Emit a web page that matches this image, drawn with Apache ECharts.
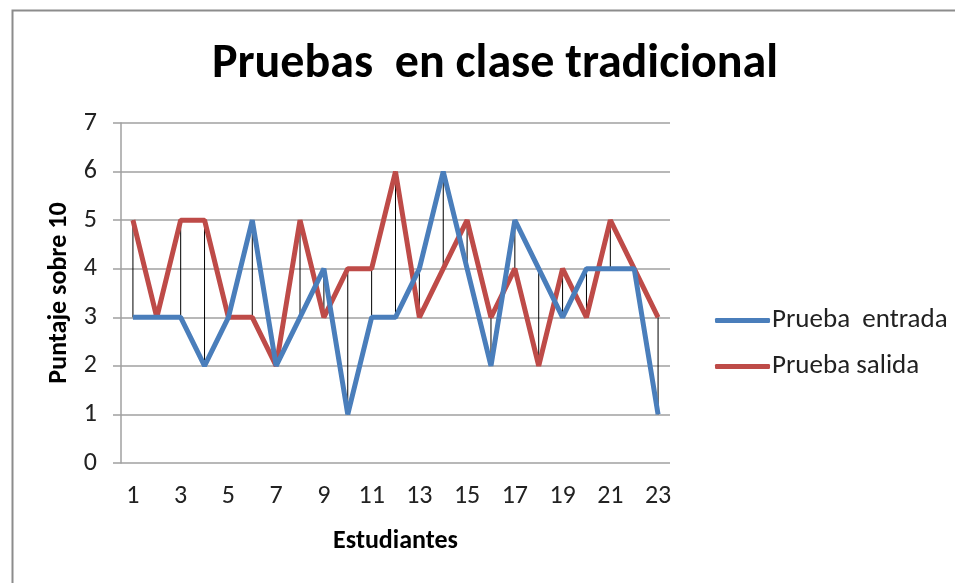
<!DOCTYPE html>
<html><head><meta charset="utf-8">
<script src="https://cdn.jsdelivr.net/npm/echarts@6/dist/echarts.min.js"></script>
<style>html,body{margin:0;padding:0;background:#fff}#c{width:955px;height:583px}</style>
</head><body><div id="c"></div>
<script>
const categories = ['1','2','3','4','5','6','7','8','9','10','11','12','13','14','15','16','17','18','19','20','21','22','23'];
const entrada = [3,3,3,2,3,5,2,3,4,1,3,3,4,6,4,2,5,4,3,4,4,4,1];
const salida  = [5,3,5,5,3,3,2,5,3,4,4,6,3,4,5,3,4,2,4,3,5,4,3];
const yTicks = [0,1,2,3,4,5,6,7];
const FONT = 'Carlito, Lato, "Liberation Sans", sans-serif';

const chart = echarts.init(document.getElementById('c'), null, {renderer:'canvas'});
chart.setOption({
  animation:false,
  backgroundColor:'#fff',
  graphic:[{type:'rect', shape:{x:12.5,y:10.5,width:960,height:600}, style:{fill:'none', stroke:'#8c8c8c', lineWidth:2}, silent:true}],
  title:{text:'Pruebas  en clase tradicional', left:490, textAlign:'center', top:36,
    textStyle:{fontFamily:FONT, fontSize:48, fontWeight:'bold', color:'#000'}},
  legend:{orient:'vertical', left:710, top:302, itemGap:19, itemWidth:55, itemHeight:5, icon:'roundRect',
    textStyle:{fontFamily:FONT, fontSize:27, color:'#222', padding:[0,0,0,-3]},
    data:['Prueba  entrada','Prueba salida']},
  grid:{left:121, right:285, top:123, bottom:120},
  xAxis:{type:'category', data:categories, boundaryGap:true,
    name:'Estudiantes', nameLocation:'middle', nameGap:65,
    nameTextStyle:{fontFamily:FONT, fontSize:26, fontWeight:'bold', color:'#000'},
    axisLine:{show:false}, axisTick:{show:false},
    axisLabel:{interval:1, fontFamily:FONT, fontSize:26, color:'#222', margin:20}},
  yAxis:{type:'value', min:yTicks[0], max:yTicks[yTicks.length-1], interval:1,
    name:'Puntaje sobre 10', nameLocation:'middle', nameGap:46,
    nameTextStyle:{fontFamily:FONT, fontSize:26, fontWeight:'bold', color:'#000'},
    axisLine:{show:true, lineStyle:{color:'#a0a0a0', width:1.5}},
    axisTick:{show:true, length:8, lineStyle:{color:'#a0a0a0', width:1.5}},
    splitLine:{lineStyle:{color:'#a0a0a0', width:1.5}},
    axisLabel:{fontFamily:FONT, fontSize:26, color:'#222', margin:24}},
  series:[
    {type:'custom', name:'hl', silent:true, z:1,
      data: categories.map((c,i)=>[i, entrada[i], salida[i]]),
      renderItem:(params, api)=>{
        const a = api.coord([api.value(0), api.value(1)]);
        const b = api.coord([api.value(0), api.value(2)]);
        return {type:'line', shape:{x1:a[0], y1:a[1], x2:b[0], y2:b[1]}, style:{stroke:'#000', lineWidth:1}};
      }},
    {type:'line', name:'Prueba  entrada', data:entrada, showSymbol:false, symbol:'none', z:3,
      lineStyle:{color:'#4a7ebb', width:5}, itemStyle:{color:'#4a7ebb'}},
    {type:'line', name:'Prueba salida', data:salida, showSymbol:false, symbol:'none', z:2,
      lineStyle:{color:'#be4b48', width:5}, itemStyle:{color:'#be4b48'}}
  ]
});
</script></body></html>
